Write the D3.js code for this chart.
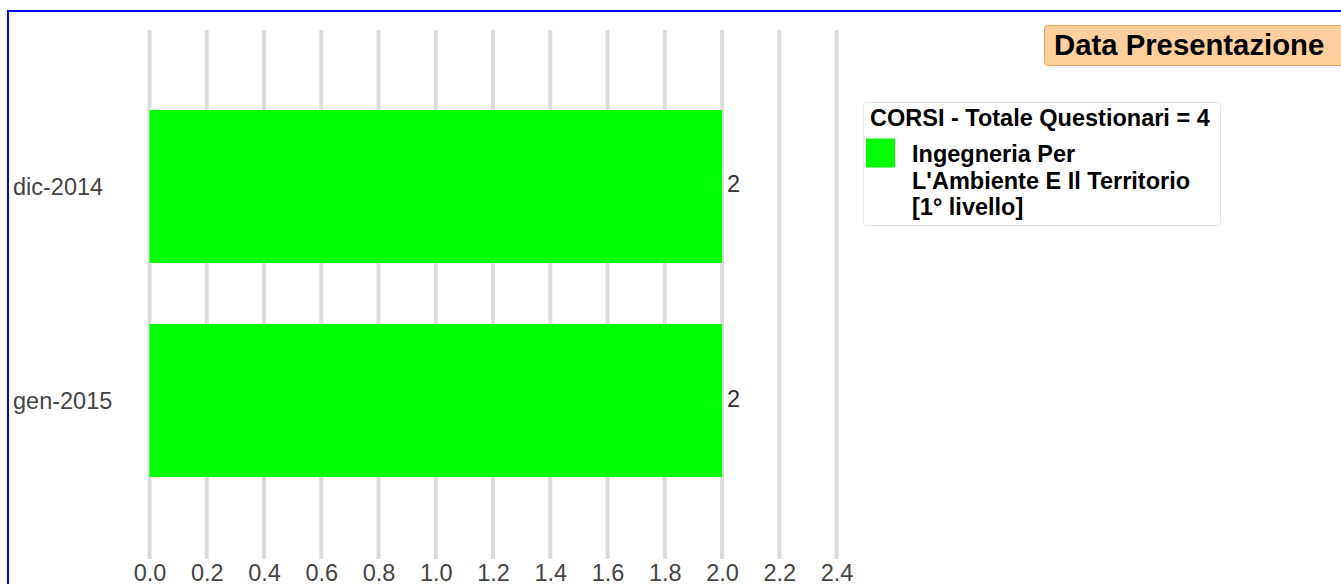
<!DOCTYPE html>
<html>
<head>
<meta charset="utf-8">
<script src="https://cdn.jsdelivr.net/npm/d3@7"></script>
<style>
  html, body { margin: 0; padding: 0; background: #fff; }
  svg { display: block; font-family: "Liberation Sans", Arial, sans-serif; }
</style>
</head>
<body>
<svg id="chart" width="1341" height="584"></svg>
<script>
// ---- data ----
const categories = ["dic-2014", "gen-2015"];
const values = [2, 2];
const tickValues = [0, 0.2, 0.4, 0.6, 0.8, 1.0, 1.2, 1.4, 1.6, 1.8, 2.0, 2.2, 2.4];
const seriesLines = ["Ingegneria Per", "L'Ambiente E Il Territorio", "[1° livello]"];
const legendTitle = "CORSI - Totale Questionari = 4";
const chartTitle = "Data Presentazione";
const barColor = "#00ff00";

const svg = d3.select("#chart");

// outer blue frame
svg.append("rect")
  .attr("x", 8).attr("y", 11)
  .attr("width", 1400).attr("height", 700)
  .attr("fill", "none").attr("stroke", "#0000ff").attr("stroke-width", 2);

// scales
const x = d3.scaleLinear().domain([0, 2.4]).range([149.5, 836.6]);
const y = d3.scaleBand().domain(categories).range([49, 538]).padding(0.285);

// grid lines
svg.append("g").selectAll("line")
  .data(tickValues).join("line")
  .attr("x1", d => x(d)).attr("x2", d => x(d))
  .attr("y1", 30).attr("y2", 559)
  .attr("stroke", "#dcdcdc").attr("stroke-width", 4);

// x axis labels via d3 axis
const xAxis = d3.axisBottom(x).tickValues(tickValues).tickFormat(d3.format(".1f")).tickSize(0).tickPadding(0);
const gx = svg.append("g").attr("transform", "translate(0,564.5)").call(xAxis);
gx.select(".domain").remove();
gx.selectAll("text")
  .attr("font-size", "23.5px")
  .attr("font-family", "'Liberation Sans', Arial, sans-serif")
  .attr("fill", "#444")
  .attr("dy", "0.71em");

// bars
svg.append("g").selectAll("rect")
  .data(categories).join("rect")
  .attr("x", x(0))
  .attr("y", d => y(d))
  .attr("width", (d, i) => x(values[i]) - x(0))
  .attr("height", y.bandwidth())
  .attr("fill", barColor);

// value labels
svg.append("g").selectAll("text")
  .data(categories).join("text")
  .attr("x", (d, i) => x(values[i]) + 5)
  .attr("y", d => y(d) + y.bandwidth() / 2 + 6)
  .attr("font-size", "23.5px")
  .attr("fill", "#333")
  .text((d, i) => values[i]);

// category labels
const yAxis = d3.axisLeft(y).tickSize(0).tickPadding(0);
const gy = svg.append("g").attr("transform", "translate(13,0)").call(yAxis);
gy.select(".domain").remove();
gy.selectAll("text")
  .attr("text-anchor", "start")
  .attr("x", 0)
  .attr("dy", "0.35em")
  .attr("font-size", "23.5px")
  .attr("font-family", "'Liberation Sans', Arial, sans-serif")
  .attr("fill", "#444");

// title box
svg.append("rect")
  .attr("x", 1044.5).attr("y", 25.5)
  .attr("width", 330).attr("height", 40)
  .attr("rx", 3)
  .attr("fill", "#ffd09e").attr("stroke", "#f5a455").attr("stroke-width", 1);
svg.append("text")
  .attr("x", 1054).attr("y", 54.5)
  .attr("font-size", "29.3px").attr("font-weight", "bold")
  .attr("fill", "#000")
  .text(chartTitle);

// legend
const lg = svg.append("g");
lg.append("rect")
  .attr("x", 863.5).attr("y", 102.5)
  .attr("width", 357).attr("height", 123)
  .attr("rx", 3)
  .attr("fill", "#fff").attr("stroke", "#e6e6e6");
lg.append("text")
  .attr("x", 870).attr("y", 126)
  .attr("font-size", "23.5px").attr("font-weight", "bold")
  .attr("fill", "#000")
  .text(legendTitle);
lg.append("rect")
  .attr("x", 866).attr("y", 138.5)
  .attr("width", 29).attr("height", 29)
  .attr("fill", barColor);
lg.append("text")
  .attr("font-size", "23.5px").attr("font-weight", "bold").attr("fill", "#000")
  .selectAll("tspan").data(seriesLines).join("tspan")
  .attr("x", 912)
  .attr("y", (d, i) => 162 + i * 26.5)
  .text(d => d);
</script>
</body>
</html>
